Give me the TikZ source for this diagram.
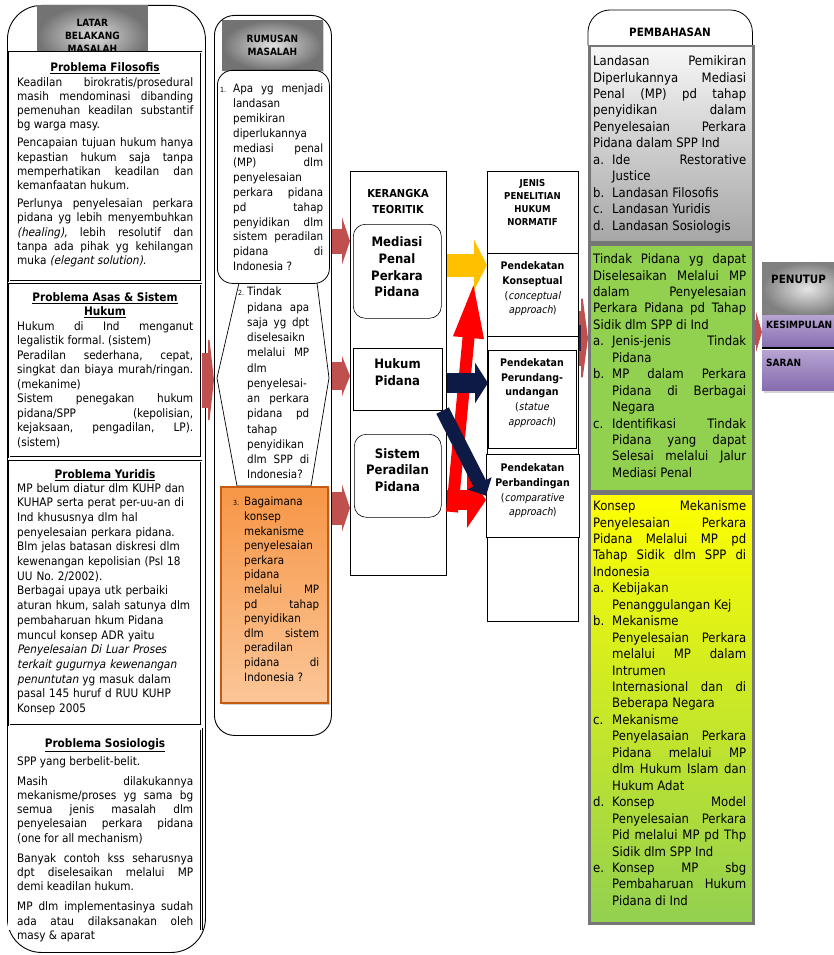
\documentclass[tikz,border=0pt]{standalone}
\usepackage{fontspec}
\setmainfont{DejaVu Sans}[FakeStretch=0.9, AutoFakeSlant=0.2]
\usetikzlibrary{arrows.meta,shadows}
\frenchspacing

\definecolor{arrred}{RGB}{192,80,77}
\definecolor{hotred}{RGB}{255,0,0}
\definecolor{amber}{RGB}{255,192,0}
\definecolor{navyarr}{RGB}{14,26,70}
\definecolor{orgtop}{RGB}{247,150,70}
\definecolor{orgbot}{RGB}{251,198,152}
\definecolor{orgline}{RGB}{197,90,17}
\definecolor{grass}{RGB}{146,208,80}
\definecolor{lemon}{RGB}{255,255,0}
\definecolor{pemline}{RGB}{118,118,118}
\definecolor{liltop}{RGB}{182,164,210}
\definecolor{lilbot}{RGB}{134,108,176}

\newcommand{\fixpar}{\tolerance=10000\hbadness=10000\hyphenpenalty=10000}
\newcommand{\txa}{\fontsize{11.7}{14.2}\selectfont\fixpar}
\newcommand{\txq}{\fontsize{11.5}{14.8}\selectfont\fixpar}
\newcommand{\txp}{\fontsize{13}{16.45}\selectfont\fixpar}
\newcommand{\qnum}{\fontsize{7}{8}\selectfont}
\newcommand{\lbl}[2]{\leavevmode\hangindent=#1\hangafter=1\makebox[#1][l]{#2}}

\tikzset{
  colbox/.style={draw, line width=0.9pt, fill=white, anchor=north west, inner sep=0pt},
  probbox/.style={draw, double, double distance=1.4pt, line width=0.5pt, fill=white, anchor=north west, inner sep=0pt},
  grayhead/.style={draw=black!55, line width=0.8pt, inner color=white!88!black, outer color=black!55, anchor=north west, inner sep=0pt, align=center, font=\bfseries\fontsize{10}{12.8}\selectfont},
  probhead/.style={inner sep=0pt, align=center, font=\bfseries\fontsize{11.7}{14}\selectfont},
  probtxt/.style={anchor=north west, inner sep=0pt, align=justify, font=\txa},
  plainbox/.style={draw, line width=0.6pt, fill=white, anchor=north west, inner sep=0pt},
  boldtxt/.style={inner sep=0pt, align=center, font=\bfseries\fontsize{13}{16.6}\selectfont},
  apptxt/.style={inner sep=0pt, align=center, font=\fontsize{10.5}{14.7}\selectfont},
  pembox/.style={draw=pemline, line width=2.5pt, anchor=north west, inner sep=0pt},
  pemtxt/.style={anchor=north west, inner sep=0pt, align=justify, text width=153pt, font=\txp},
  blockarr/.style n args={3}{line width=#1, -{Triangle[length=#2,width=#3]}},
}

\begin{document}
\begin{tikzpicture}[x=1pt,y=-1pt]
\useasboundingbox (0,0) rectangle (834,955);
\clip (0,0) rectangle (834,955);

% latar belakang masalah
\node[colbox, rounded corners=34pt, minimum width=198pt, minimum height=947pt] (lbm) at (7,5) {};
\node[grayhead, minimum width=110pt, minimum height=61pt] (lbmh) at (37,5) {LATAR\\BELAKANG\\MASALAH};

\node[probbox, minimum width=192pt, minimum height=229pt] (filo) at (9,52) {};
\node[probhead] (filoh) at (105,68) {\underline{Problema Filosofis}};
\node[probtxt, text width=176pt] (filot) at (17,77) {\setlength\parskip{4pt}Keadilan birokratis/prosedural\linebreak masih mendominasi dibanding\linebreak pemenuhan keadilan substantif\linebreak bg warga masy.\par
Pencapaian tujuan hukum hanya\linebreak kepastian hukum saja tanpa\linebreak memperhatikan keadilan dan\linebreak kemanfaatan hukum.\par
Perlunya penyelesaian perkara\linebreak pidana yg lebih menyembuhkan\linebreak \textit{(healing),} lebih resolutif dan\linebreak tanpa ada pihak yg kehilangan\linebreak muka \textit{(elegant solution).}\par};

\node[probbox, minimum width=192pt, minimum height=173pt] (asas) at (9,284) {};
\node[probhead] (asash) at (105,305) {\underline{Problema Asas \& Sistem}\\\underline{Hukum}};
\node[probtxt, text width=176pt, font=\fontsize{11.7}{14.5}\selectfont\fixpar] (asast) at (17,321) {Hukum di Ind menganut\linebreak legalistik formal. (sistem)\par
Peradilan sederhana, cepat,\linebreak singkat dan biaya murah/ringan.\linebreak (mekanime)\par
Sistem penegakan hukum\linebreak pidana/SPP (kepolisian,\linebreak kejaksaan, pengadilan, LP).\linebreak (sistem)\par};

\node[probbox, minimum width=192pt, minimum height=264pt] (yur) at (9,461) {};
\node[probhead] (yurh) at (105,475) {\underline{Problema Yuridis}};
\node[probtxt, text width=180pt, align=left, font=\fontsize{11.7}{14.7}\selectfont] (yurt) at (17,483) {MP belum diatur dlm KUHP dan\\KUHAP serta perat per-uu-an di\\Ind khususnya dlm hal\\penyelesaian perkara pidana.\\Blm jelas batasan diskresi dlm\\kewenangan kepolisian (Psl 18\\UU No. 2/2002).\\Berbagai upaya utk perbaiki\\aturan hkum, salah satunya dlm\\pembaharuan hkum Pidana\\muncul konsep ADR yaitu\\\textit{Penyelesaian Di Luar Proses}\\\textit{terkait gugurnya kewenangan}\\\textit{penuntutan} yg masuk dalam\\pasal 145 huruf d RUU KUHP\\Konsep 2005};

\node[anchor=north west, inner sep=0pt, minimum width=192pt, minimum height=201pt] (sos) at (9,729) {};
\draw[double, double distance=1.4pt, line width=0.5pt] (sos.south west) -- (sos.north west) -- (sos.north east) -- (sos.south east);
\node[probhead] (sosh) at (105,745) {\underline{Problema Sosiologis}};
\node[probtxt, text width=176pt] (sost) at (17,756) {\setlength\parskip{6pt}SPP yang berbelit-belit.\par
Masih dilakukannya\linebreak mekanisme/proses yg sama bg\linebreak semua jenis masalah dlm\linebreak penyelesaian perkara pidana\linebreak (one for all mechanism)\par
Banyak contoh kss seharusnya\linebreak dpt diselesaikan melalui MP\linebreak demi keadilan hukum.\par
MP dlm implementasinya sudah\linebreak ada atau dilaksanakan oleh\linebreak masy \& aparat\par};

% rumusan masalah
\node[colbox, rounded corners=20pt, minimum width=117pt, minimum height=720pt] (rm) at (214,15) {};
\node[grayhead, minimum width=100pt, minimum height=50pt, drop shadow={opacity=0.35,shadow xshift=2pt,shadow yshift=-2pt}] (rmh) at (222,20) {RUMUSAN\\MASALAH};
\draw[line width=0.7pt, fill=white] (239,283) -- (317,283) -- (329,378) -- (311,486) -- (237,486) -- (217,378) -- cycle;
\node[plainbox, line width=0.8pt, rounded corners=15pt, minimum width=112pt, minimum height=213pt] (q1) at (217,70) {};
\node[probtxt, font=\txq, text width=103pt] (q1t) at (220,84) {\lbl{13pt}{\qnum 1.}Apa yg menjadi\linebreak landasan\linebreak pemikiran\linebreak diperlukannya\linebreak mediasi penal\linebreak (MP) dlm\linebreak penyelesaian\linebreak perkara pidana\linebreak pd tahap\linebreak penyidikan dlm\linebreak sistem peradilan\linebreak pidana di\linebreak Indonesia ?\par};
\node[probtxt, font={\fontsize{11.5}{15.25}\selectfont\fixpar}, text width=71pt] (q2t) at (238,287) {\lbl{9pt}{\qnum 2.}Tindak\linebreak pidana apa\linebreak saja yg dpt\linebreak diselesaikn\linebreak melalui MP\linebreak dlm\linebreak penyelesai-\linebreak an perkara\linebreak pidana pd\linebreak tahap\linebreak penyidikan\linebreak dlm SPP di\linebreak Indonesia?\par};
\node[draw=orgline, line width=2pt, top color=orgtop, bottom color=orgbot, anchor=north west, inner sep=0pt, minimum width=107pt, minimum height=216pt, drop shadow={opacity=0.35,shadow xshift=2pt,shadow yshift=-2pt}] (q3) at (220,486) {};
\node[probtxt, font={\fontsize{11.5}{14.6}\selectfont\fixpar}, text width=86pt] (q3t) at (233,497) {\lbl{11pt}{\qnum 3.}Bagaimana\linebreak konsep\linebreak mekanisme\linebreak penyelesaian\linebreak perkara\linebreak pidana\linebreak melalui MP\linebreak pd tahap\linebreak penyidikan\linebreak dlm sistem\linebreak peradilan\linebreak pidana di\linebreak Indonesia ?\par};

% kerangka teoritik
\node[plainbox, minimum width=96pt, minimum height=404pt] (kt) at (350,171) {};
\node[inner sep=0pt, align=center, font=\bfseries\fontsize{11}{16}\selectfont] (ktt) at (398,201) {KERANGKA\\TEORITIK};
\node[plainbox, rounded corners=12pt, minimum width=88pt, minimum height=94pt] (med) at (353,224) {};
\node[boldtxt] (medt) at (397,267) {Mediasi\\Penal\\Perkara\\Pidana};
\node[plainbox, minimum width=89pt, minimum height=62pt] (hp) at (353,348) {};
\node[boldtxt] (hpt) at (397.5,372) {Hukum\\Pidana};
\node[plainbox, rounded corners=12pt, minimum width=87pt, minimum height=83pt] (spp) at (354,434) {};
\node[boldtxt] (sppt) at (397.5,470) {Sistem\\Peradilan\\Pidana};

% jenis penelitian
\node[plainbox, minimum width=91pt, minimum height=450pt] (jp) at (487,171) {};
\node[inner sep=0pt, align=center, font=\bfseries\fontsize{9.5}{13}\selectfont] (jpt) at (532.5,203) {JENIS\\PENELITIAN\\HUKUM\\NORMATIF};
\node[plainbox, minimum width=91pt, minimum height=83pt] (konsep) at (487,253) {};
\node[apptxt] (konsept) at (532.5,289) {\textbf{Pendekatan}\\\textbf{Konseptual}\\(\textit{conceptual}\\\textit{approach})};
\node[plainbox, minimum width=88pt, minimum height=98pt] (perund) at (488,350) {};
\node[apptxt] (perundt) at (532,393) {\textbf{Pendekatan}\\\textbf{Perundang-}\\\textbf{undangan}\\(\textit{statue}\\\textit{approach})};
\node[plainbox, minimum width=93pt, minimum height=83pt] (perband) at (486,454) {};
\node[apptxt] (perbandt) at (532.5,491) {\textbf{Pendekatan}\\\textbf{Perbandingan}\\(\textit{comparative}\\\textit{approach})};

% pembahasan
\node[anchor=north west, inner sep=0pt, minimum width=164pt, minimum height=35pt] (pemh) at (588,10) {};
\draw[line width=0.8pt, rounded corners=22pt] (pemh.south west) -- (pemh.north west) -- (pemh.north east) -- (pemh.south east);
\node[inner sep=0pt, font=\bfseries\fontsize{11.5}{14}\selectfont] (pemt) at (670,32) {PEMBAHASAN};
\node[pembox, top color=black!3, bottom color=black!35, minimum width=164pt, minimum height=196pt] (abu) at (588,45) {};
\node[pemtxt] (abut) at (593,55.5) {Landasan Pemikiran\linebreak Diperlukannya Mediasi\linebreak Penal (MP) pd tahap\linebreak penyidikan dalam\linebreak Penyelesaian Perkara\linebreak Pidana dalam SPP Ind\par
\lbl{19pt}{a.}Ide Restorative\linebreak Justice\par
\lbl{19pt}{b.}Landasan Filosofis\par
\lbl{19pt}{c.}Landasan Yuridis\par
\lbl{19pt}{d.}Landasan Sosiologis\par};
\node[pembox, fill=grass, minimum width=164pt, minimum height=247pt] (hijau) at (588,243) {};
\node[pemtxt] (hijaut) at (593,253.5) {Tindak Pidana yg dapat\linebreak Diselesaikan Melalui MP\linebreak dalam Penyelesaian\linebreak Perkara Pidana pd Tahap\linebreak Sidik dlm SPP di Ind\par
\lbl{19pt}{a.}Jenis-jenis Tindak\linebreak Pidana\par
\lbl{19pt}{b.}MP dalam Perkara\linebreak Pidana di Berbagai\linebreak Negara\par
\lbl{19pt}{c.}Identifikasi Tindak\linebreak Pidana yang dapat\linebreak Selesai melalui Jalur\linebreak Mediasi Penal\par};
\node[pembox, top color=lemon, bottom color=grass, minimum width=164pt, minimum height=430pt] (kuning) at (588,492) {};
\node[pemtxt] (kuningt) at (593,500.5) {Konsep Mekanisme\linebreak Penyelesaian Perkara\linebreak Pidana Melalui MP pd\linebreak Tahap Sidik dlm SPP di\linebreak Indonesia\par
\lbl{19pt}{a.}Kebijakan\linebreak Penanggulangan Kej\par
\lbl{19pt}{b.}Mekanisme\linebreak Penyelesaian Perkara\linebreak melalui MP dalam\linebreak Intrumen\linebreak Internasional dan di\linebreak Beberapa Negara\par
\lbl{19pt}{c.}Mekanisme\linebreak Penyelasaian Perkara\linebreak Pidana melalui MP\linebreak dlm Hukum Islam dan\linebreak Hukum Adat\par
\lbl{19pt}{d.}Konsep Model\linebreak Penyelesaian Perkara\linebreak Pid melalui MP pd Thp\linebreak Sidik dlm SPP Ind\par
\lbl{19pt}{e.}Konsep MP sbg\linebreak Pembaharuan Hukum\linebreak Pidana di Ind\par};

% penutup
\node[draw=black!50, inner color=white!90!black, outer color=black!50, anchor=north west, inner sep=0pt, minimum width=90pt, minimum height=53pt, drop shadow={opacity=0.35,shadow xshift=2pt,shadow yshift=-2pt}] (pnt) at (762,262) {};
\node[anchor=west, inner sep=0pt, font=\bfseries\fontsize{11.5}{14}\selectfont] (pntt) at (771,279) {PENUTUP};
\node[top color=liltop, bottom color=lilbot, anchor=north west, inner sep=0pt, minimum width=90pt, minimum height=33pt] (kes) at (762,315) {};
\node[anchor=west, inner sep=0pt, font=\bfseries\fontsize{10}{12}\selectfont] (kest) at (766,325) {KESIMPULAN};
\node[top color=liltop, bottom color=lilbot, anchor=north west, inner sep=0pt, minimum width=90pt, minimum height=40pt, drop shadow={opacity=0.35,shadow xshift=2pt,shadow yshift=-3pt}] (srn) at (762,350) {};
\node[anchor=west, inner sep=0pt, font=\bfseries\fontsize{10}{12}\selectfont] (srnt) at (766,363) {SARAN};
\draw[line width=2pt] (kes.south west) -- (kes.south east);

% panah
\draw[blockarr={55pt}{6pt}{107pt}, arrred] (asas.east |- 0,380) -- (rm.west |- 0,380);
\draw[blockarr={25pt}{8pt}{47pt}, arrred] (rm.east |- 0,241) -- (kt.west |- 0,241);
\draw[blockarr={28pt}{8pt}{40pt}, arrred] (rm.east |- 0,376) -- (kt.west |- 0,376);
\draw[blockarr={33pt}{8pt}{47pt}, arrred] (rm.east |- 0,508) -- (kt.west |- 0,508);
\draw[blockarr={23pt}{13pt}{50pt}, amber] (kt.east |- 0,265) -- (konsep.west |- 0,265);
\coordinate (redfoot) at (452,512);
\coordinate (redtip) at (474,280);
\draw[blockarr={12pt}{58pt}{27pt}, hotred] (redfoot) -- (redtip);
\draw[blockarr={20pt}{19pt}{55pt}, hotred] (kt.east |- 0,500) -- (perband.west |- 0,500);
\draw[blockarr={20pt}{13pt}{40pt}, navyarr] (kt.east |- 0,383) -- (perund.west |- 0,383);
\draw[blockarr={14pt}{14pt}{26pt}, navyarr] (hp.south east) -- (perband.west);
\draw[blockarr={55pt}{7pt}{105pt}, arrred] (jp.east |- 0,338) -- (hijau.west |- 0,338);
\draw[navyarr!85!arrred, line width=26pt, shorten >=7pt] (jp.east |- 0,338) -- (hijau.west |- 0,338);
\draw[blockarr={25pt}{6pt}{40pt}, arrred] (hijau.east |- 0,332) -- (pnt.west |- 0,332);
\end{tikzpicture}
\end{document}
